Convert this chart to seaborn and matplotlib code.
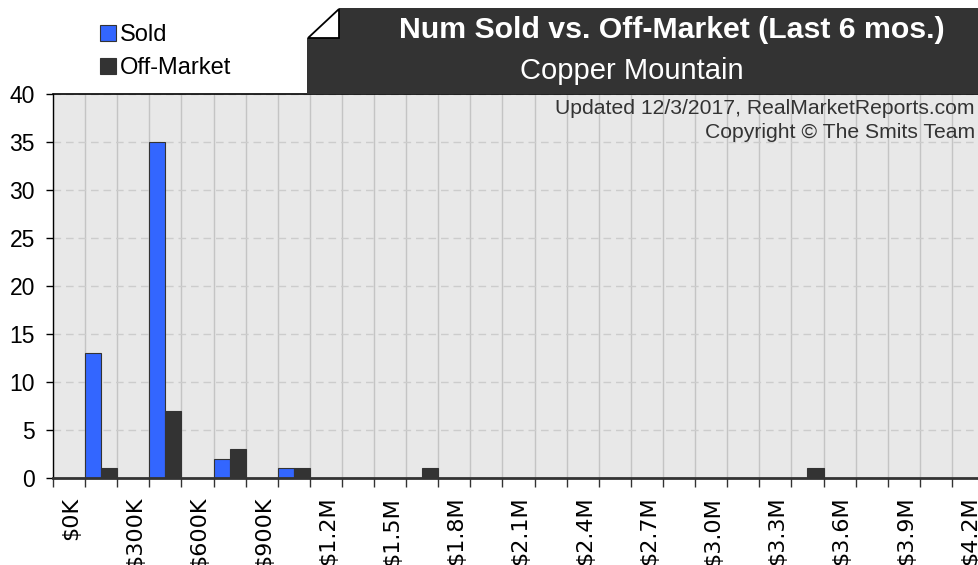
import matplotlib
matplotlib.use("Agg")
import matplotlib.pyplot as plt
import seaborn as sns
import pandas as pd
from matplotlib.patches import Polygon, Patch
from matplotlib.transforms import ScaledTranslation

# ---------------- data ----------------
groups = ["$0K", "$300K", "$600K", "$900K", "$1.2M", "$1.5M", "$1.8M",
          "$2.1M", "$2.4M", "$2.7M", "$3.0M", "$3.3M", "$3.6M", "$3.9M"]
sold = [13, 35, 2, 1, 0, 0, 0, 0, 0, 0, 0, 0, 0, 0]
off_market = [1, 7, 3, 1, 0, 1, 0, 0, 0, 0, 0, 1, 0, 0]
tick_labels = ["$0K", "$300K", "$600K", "$900K", "$1.2M", "$1.5M", "$1.8M",
               "$2.1M", "$2.4M", "$2.7M", "$3.0M", "$3.3M", "$3.6M", "$3.9M", "$4.2M"]
series = ["Sold", "Off-Market"]
colors = ["#3366ff", "#333333"]
title = "Num Sold vs. Off-Market (Last 6 mos.)"
subtitle = "Copper Mountain"
note1 = "Updated 12/3/2017, RealMarketReports.com"
note2 = "Copyright \u00a9 The Smits Team"

df = pd.DataFrame({
    "bin": groups * 2,
    "count": sold + off_market,
    "status": [series[0]] * len(groups) + [series[1]] * len(groups),
})

W, H = 979, 565
def fp(x, y):
    return (x / W, 1 - y / H)

fig = plt.figure(figsize=(W / 100, H / 100), dpi=100)
ax = fig.add_axes([53 / W, 1 - 478 / H, 926 / W, 384 / H])

sns.barplot(data=df, x="bin", y="count", hue="status", order=groups,
            hue_order=series, palette=colors, width=0.5, dodge=True,
            saturation=1, edgecolor="#333333", linewidth=0.8, ax=ax,
            legend=False, errorbar=None)

ax.set_facecolor("#e8e8e8")
ax.set_ylim(0, 40)
ax.set_yticks(range(0, 41, 5))
ax.set_xlabel("")
ax.set_ylabel("")

# Each group sits in the upper half of its 300K interval
major = [i - 0.75 for i in range(len(tick_labels))]
minor = [i - 0.25 for i in range(len(tick_labels))]
ax.set_xticks(major)
ax.set_xticklabels(tick_labels, rotation=90, va="top", ha="center",
                   fontfamily="DejaVu Sans", fontsize=16)
ax.set_xticks(minor, minor=True)
ax.set_xlim(-0.75, -0.75 + 926 / 64.21)

ax.set_axisbelow(True)
ax.grid(axis="x", which="both", color="#c4c4c4", lw=1, ls="-")
ax.grid(axis="y", which="major", color="#cccccc", lw=1, ls=(0, (5.5, 3.5)))

ax.tick_params(axis="x", which="both", length=6.5, width=1, color="#333333", pad=7)
ax.tick_params(axis="y", length=5, width=1, color="black", pad=8)

for lbl in ax.get_yticklabels():
    lbl.set_fontfamily("Liberation Sans")
    lbl.set_fontsize(16.5)

shift = ScaledTranslation(18 / 100, 0, fig.dpi_scale_trans)
for tick in ax.xaxis.get_major_ticks():
    tick.label1.set_transform(tick.label1.get_transform() + shift)

ax.spines["right"].set_visible(False)
ax.spines["left"].set_color("black")
ax.spines["left"].set_linewidth(1)
ax.spines["top"].set_color("black")
ax.spines["top"].set_linewidth(1.2)
ax.spines["bottom"].set_color("#333333")
ax.spines["bottom"].set_linewidth(2)
ax.spines["bottom"].set_zorder(5)

# title box with folded corner
box = Polygon([fp(307, 94), fp(307, 38), fp(339, 38), fp(339, 8), fp(W, 8), fp(W, 94)],
              closed=True, transform=fig.transFigure, facecolor="#333333",
              edgecolor="none", zorder=4)
flap = Polygon([fp(308, 38), fp(339, 9), fp(339, 38)], closed=True,
               transform=fig.transFigure, facecolor="white", edgecolor="black",
               lw=1.3, zorder=5)
fig.patches.extend([box, flap])

fig.text(*fp(672, 30), title, ha="center", va="center", color="white",
         fontsize=21.8, fontweight="bold", family="Liberation Sans", zorder=6)
fig.text(*fp(632, 71), subtitle, ha="center", va="center", color="white",
         fontsize=21, family="Liberation Sans", zorder=6)
fig.text(*fp(975, 109), note1, ha="right", va="center", color="#333333",
         fontsize=15.2, family="Liberation Sans", zorder=6)
fig.text(*fp(975, 132), note2, ha="right", va="center", color="#333333",
         fontsize=15.2, family="Liberation Sans", zorder=6)

handles = [Patch(facecolor=c, edgecolor="#333333", lw=0.8) for c in colors]
fig.legend(handles, series, loc="upper left", bbox_to_anchor=fp(100, 24),
           frameon=False, prop={"family": "Liberation Sans", "size": 17},
           handlelength=0.66, handleheight=0.66, handletextpad=0.2,
           labelspacing=0.48, borderpad=0, borderaxespad=0)

fig.savefig("out.png", dpi=100)
